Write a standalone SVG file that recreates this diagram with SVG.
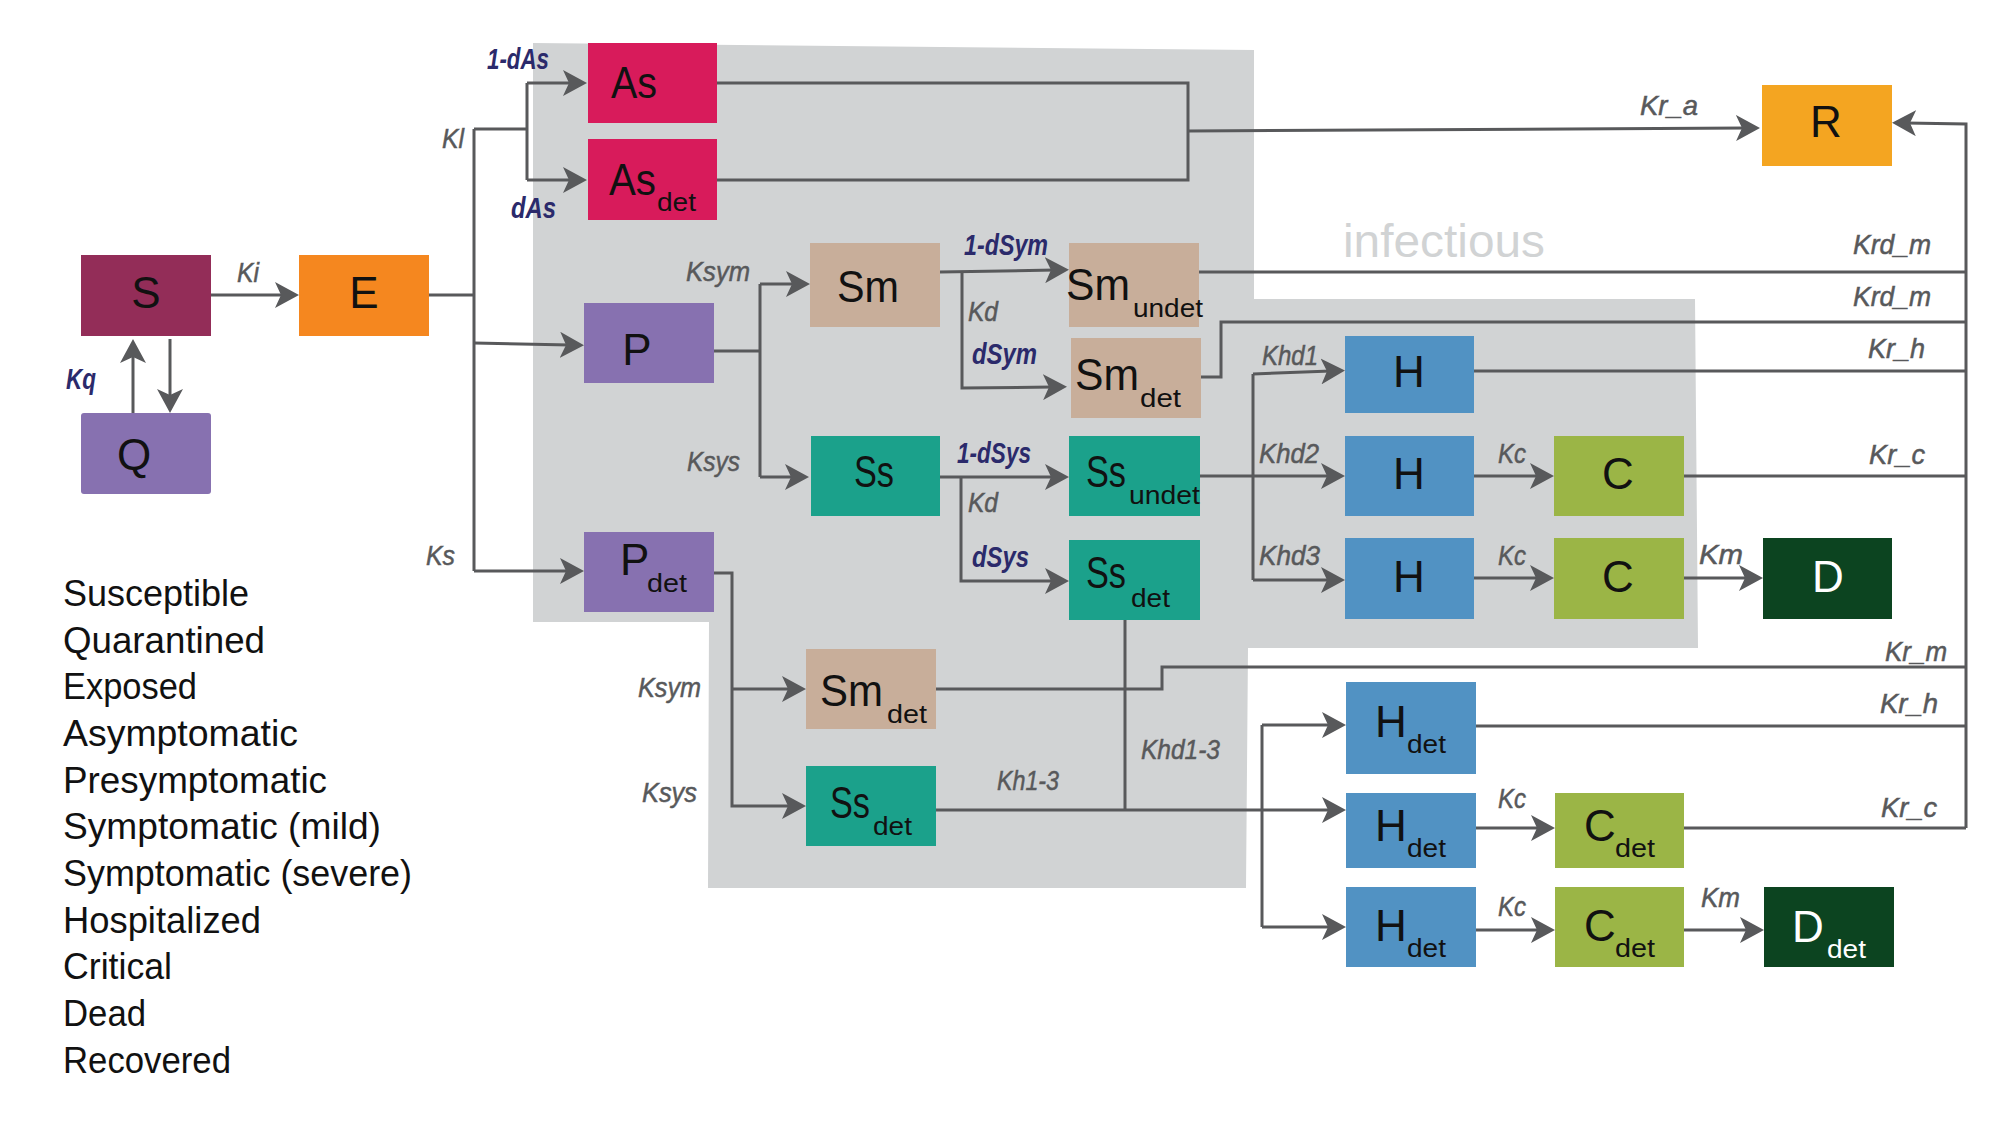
<svg xmlns="http://www.w3.org/2000/svg" width="2001" height="1127" viewBox="0 0 2001 1127">
<style>
.n{font-family:"Liberation Sans",Arial,sans-serif;font-size:44px;fill:#111}
.nm{text-anchor:middle}
.sub{font-family:"Liberation Sans",Arial,sans-serif;font-size:25px;fill:#111}
.w{fill:#fff}
.l{font-family:"Liberation Sans",Arial,sans-serif;font-style:italic;font-size:28px;fill:#58595B;stroke:#58595B;stroke-width:0.5}
.lv{font-family:"Liberation Sans",Arial,sans-serif;font-style:italic;font-weight:bold;font-size:29px;fill:#2B2A6B}
.lg{font-family:"Liberation Sans",Arial,sans-serif;font-size:37px;fill:#111}
.c{fill:none;stroke:#58595B;stroke-width:3}
.cS{fill:#932D58}.cE{fill:#F5871F}.cP{fill:#8771B0}.cA{fill:#D81B5B}.cM{fill:#C8AE9A}
.cT{fill:#1BA18B}.cH{fill:#5192C3}.cC{fill:#9BB546}.cD{fill:#0C4420}.cR{fill:#F4A521}
</style>
<defs>
<marker id="ah" viewBox="0 0 24 26" refX="10" refY="13" markerWidth="24" markerHeight="26" markerUnits="userSpaceOnUse" orient="auto">
<path d="M24,13 L0,0 L6,13 L0,26 Z" fill="#58595B"/>
</marker>
</defs>
<rect width="2001" height="1127" fill="#fff"/>
<g id="infectious-region">
<polygon points="533,43 1254,50 1254,299 1695,299 1698,648 1248,648 1246,888 708,888 709,622 533,622" fill="#D1D3D4"/>
<text x="1343" y="257" font-family="Liberation Sans, Arial, sans-serif" font-size="46" fill="#D1D3D4" textLength="202" lengthAdjust="spacingAndGlyphs">infectious</text>
</g>
<g id="connectors">
<path class="c" d="M211,295 H285" marker-end="url(#ah)"/>
<path class="c" d="M429,295 H474 M474,129 V571 M474,129 H527 M527,83 V180"/>
<path class="c" d="M527,83 H573" marker-end="url(#ah)"/>
<path class="c" d="M527,180 H573" marker-end="url(#ah)"/>
<path class="c" d="M474,343 L570,345" marker-end="url(#ah)"/>
<path class="c" d="M474,571 H570" marker-end="url(#ah)"/>
<path class="c" d="M133,413 V353" marker-end="url(#ah)"/>
<path class="c" d="M170,339 V399" marker-end="url(#ah)"/>
<path class="c" d="M717,83 H1188 V180 H717"/>
<path class="c" d="M1188,131 L1746,128" marker-end="url(#ah)"/>
<path class="c" d="M714,351 H760 M760,284 V477"/>
<path class="c" d="M760,284 H796" marker-end="url(#ah)"/>
<path class="c" d="M760,477 H795" marker-end="url(#ah)"/>
<path class="c" d="M940,272 L1055,270" marker-end="url(#ah)"/>
<path class="c" d="M962,272 V388 L1053,387" marker-end="url(#ah)"/>
<path class="c" d="M1199,272 H1966"/>
<path class="c" d="M1199,377 H1221 V322 H1966"/>
<path class="c" d="M1474,371 H1966"/>
<path class="c" d="M1253,374 V580"/>
<path class="c" d="M1253,374 L1331,371" marker-end="url(#ah)"/>
<path class="c" d="M1200,476 H1331" marker-end="url(#ah)"/>
<path class="c" d="M1253,580 H1331" marker-end="url(#ah)"/>
<path class="c" d="M940,477 H1055" marker-end="url(#ah)"/>
<path class="c" d="M961,477 V581 H1055" marker-end="url(#ah)"/>
<path class="c" d="M1474,476 H1540" marker-end="url(#ah)"/>
<path class="c" d="M1684,476 H1966"/>
<path class="c" d="M1474,578 H1540" marker-end="url(#ah)"/>
<path class="c" d="M1684,578 H1749" marker-end="url(#ah)"/>
<path class="c" d="M714,573 H732 V806 H792" marker-end="url(#ah)"/>
<path class="c" d="M732,689 H792" marker-end="url(#ah)"/>
<path class="c" d="M936,689 H1162 V667 H1966"/>
<path class="c" d="M1125,620 V810"/>
<path class="c" d="M936,810 H1332" marker-end="url(#ah)"/>
<path class="c" d="M1262,725 V927"/>
<path class="c" d="M1262,725 H1332" marker-end="url(#ah)"/>
<path class="c" d="M1262,927 H1332" marker-end="url(#ah)"/>
<path class="c" d="M1476,726 H1966"/>
<path class="c" d="M1476,828 H1541" marker-end="url(#ah)"/>
<path class="c" d="M1684,828 H1966"/>
<path class="c" d="M1476,930 H1541" marker-end="url(#ah)"/>
<path class="c" d="M1684,930 H1750" marker-end="url(#ah)"/>
<path class="c" d="M1966,828 V124 L1906,123" marker-end="url(#ah)"/>
<text class="l" x="442" y="148" textLength="22" lengthAdjust="spacingAndGlyphs">Kl</text>
<text class="l" x="237" y="282" textLength="22" lengthAdjust="spacingAndGlyphs">Ki</text>
<text class="l" x="426" y="565" textLength="29" lengthAdjust="spacingAndGlyphs">Ks</text>
<text class="l" x="686" y="281" textLength="64" lengthAdjust="spacingAndGlyphs">Ksym</text>
<text class="l" x="968" y="321" textLength="30" lengthAdjust="spacingAndGlyphs">Kd</text>
<text class="l" x="687" y="471" textLength="53" lengthAdjust="spacingAndGlyphs">Ksys</text>
<text class="l" x="968" y="512" textLength="30" lengthAdjust="spacingAndGlyphs">Kd</text>
<text class="l" x="1262" y="365" textLength="56" lengthAdjust="spacingAndGlyphs">Khd1</text>
<text class="l" x="1259" y="463" textLength="60" lengthAdjust="spacingAndGlyphs">Khd2</text>
<text class="l" x="1259" y="565" textLength="61" lengthAdjust="spacingAndGlyphs">Khd3</text>
<text class="l" x="1498" y="463" textLength="28" lengthAdjust="spacingAndGlyphs">Kc</text>
<text class="l" x="1498" y="565" textLength="28" lengthAdjust="spacingAndGlyphs">Kc</text>
<text class="l" x="1699" y="564" font-size="32" textLength="44" lengthAdjust="spacingAndGlyphs">Km</text>
<text class="l" x="1640" y="115" textLength="58" lengthAdjust="spacingAndGlyphs">Kr_a</text>
<text class="l" x="1853" y="254" textLength="78" lengthAdjust="spacingAndGlyphs">Krd_m</text>
<text class="l" x="1853" y="306" textLength="78" lengthAdjust="spacingAndGlyphs">Krd_m</text>
<text class="l" x="1868" y="358" textLength="57" lengthAdjust="spacingAndGlyphs">Kr_h</text>
<text class="l" x="1869" y="464" textLength="56" lengthAdjust="spacingAndGlyphs">Kr_c</text>
<text class="l" x="1885" y="661" textLength="62" lengthAdjust="spacingAndGlyphs">Kr_m</text>
<text class="l" x="1880" y="713" textLength="58" lengthAdjust="spacingAndGlyphs">Kr_h</text>
<text class="l" x="1881" y="817" textLength="56" lengthAdjust="spacingAndGlyphs">Kr_c</text>
<text class="l" x="638" y="697" textLength="63" lengthAdjust="spacingAndGlyphs">Ksym</text>
<text class="l" x="642" y="802" textLength="55" lengthAdjust="spacingAndGlyphs">Ksys</text>
<text class="l" x="1141" y="759" textLength="79" lengthAdjust="spacingAndGlyphs">Khd1-3</text>
<text class="l" x="997" y="790" textLength="62" lengthAdjust="spacingAndGlyphs">Kh1-3</text>
<text class="l" x="1498" y="808" textLength="28" lengthAdjust="spacingAndGlyphs">Kc</text>
<text class="l" x="1498" y="916" textLength="28" lengthAdjust="spacingAndGlyphs">Kc</text>
<text class="l" x="1701" y="907" textLength="39" lengthAdjust="spacingAndGlyphs">Km</text>
<text class="lv" x="487" y="69" textLength="62" lengthAdjust="spacingAndGlyphs">1-dAs</text>
<text class="lv" x="511" y="218" textLength="45" lengthAdjust="spacingAndGlyphs">dAs</text>
<text class="lv" x="66" y="389" textLength="30" lengthAdjust="spacingAndGlyphs">Kq</text>
<text class="lv" x="964" y="255" textLength="84" lengthAdjust="spacingAndGlyphs">1-dSym</text>
<text class="lv" x="972" y="364" textLength="65" lengthAdjust="spacingAndGlyphs">dSym</text>
<text class="lv" x="957" y="463" textLength="74" lengthAdjust="spacingAndGlyphs">1-dSys</text>
<text class="lv" x="972" y="567" textLength="57" lengthAdjust="spacingAndGlyphs">dSys</text>
</g>
<g id="node-S"><rect class="cS" x="81" y="255" width="130" height="81"/><text class="n nm" x="146" y="308">S</text></g>
<g id="node-E"><rect class="cE" x="299" y="255" width="130" height="81"/><text class="n nm" x="364" y="308">E</text></g>
<g id="node-Q"><rect class="cP" x="81" y="413" width="130" height="81" rx="3"/><text class="n nm" x="134" y="470">Q</text></g>
<g id="node-As"><rect class="cA" x="588" y="43" width="129" height="80"/><text class="n" x="611" y="98" textLength="46" lengthAdjust="spacingAndGlyphs">As</text></g>
<g id="node-As-det"><rect class="cA" x="588" y="139" width="129" height="81"/><text class="n" x="609" y="195" textLength="47" lengthAdjust="spacingAndGlyphs">As</text><text class="sub" x="657" y="211" textLength="39" lengthAdjust="spacingAndGlyphs">det</text></g>
<g id="node-P"><rect class="cP" x="584" y="303" width="130" height="80"/><text class="n nm" x="637" y="365">P</text></g>
<g id="node-P-det"><rect class="cP" x="584" y="532" width="130" height="80"/><text class="n" x="620" y="575">P</text><text class="sub" x="647" y="592" textLength="40" lengthAdjust="spacingAndGlyphs">det</text></g>
<g id="node-Sm"><rect class="cM" x="810" y="243" width="130" height="84"/><text class="n" x="837" y="302" textLength="62" lengthAdjust="spacingAndGlyphs">Sm</text></g>
<g id="node-Sm-undet"><rect class="cM" x="1069" y="243" width="130" height="84"/><text class="n" x="1066" y="300" textLength="64" lengthAdjust="spacingAndGlyphs">Sm</text><text class="sub" x="1133" y="317" textLength="70" lengthAdjust="spacingAndGlyphs">undet</text></g>
<g id="node-Sm-det"><rect class="cM" x="1071" y="338" width="130" height="80"/><text class="n" x="1075" y="390" textLength="64" lengthAdjust="spacingAndGlyphs">Sm</text><text class="sub" x="1140" y="407" textLength="41" lengthAdjust="spacingAndGlyphs">det</text></g>
<g id="node-Ss"><rect class="cT" x="811" y="436" width="129" height="80"/><text class="n" x="854" y="487" textLength="40" lengthAdjust="spacingAndGlyphs">Ss</text></g>
<g id="node-Ss-undet"><rect class="cT" x="1069" y="436" width="131" height="80"/><text class="n" x="1086" y="487" textLength="40" lengthAdjust="spacingAndGlyphs">Ss</text><text class="sub" x="1129" y="504" textLength="71" lengthAdjust="spacingAndGlyphs">undet</text></g>
<g id="node-Ss-det"><rect class="cT" x="1069" y="540" width="131" height="80"/><text class="n" x="1086" y="588" textLength="40" lengthAdjust="spacingAndGlyphs">Ss</text><text class="sub" x="1131" y="607" textLength="39" lengthAdjust="spacingAndGlyphs">det</text></g>
<g id="node-Sm-det-2"><rect class="cM" x="806" y="649" width="130" height="80"/><text class="n" x="820" y="706" textLength="63" lengthAdjust="spacingAndGlyphs">Sm</text><text class="sub" x="887" y="723" textLength="40" lengthAdjust="spacingAndGlyphs">det</text></g>
<g id="node-Ss-det-2"><rect class="cT" x="806" y="766" width="130" height="80"/><text class="n" x="830" y="818" textLength="40" lengthAdjust="spacingAndGlyphs">Ss</text><text class="sub" x="873" y="835" textLength="39" lengthAdjust="spacingAndGlyphs">det</text></g>
<g id="node-H1"><rect class="cH" x="1345" y="336" width="129" height="77"/><text class="n nm" x="1409" y="387">H</text></g>
<g id="node-H2"><rect class="cH" x="1345" y="436" width="129" height="80"/><text class="n nm" x="1409" y="489">H</text></g>
<g id="node-H3"><rect class="cH" x="1345" y="538" width="129" height="81"/><text class="n nm" x="1409" y="592">H</text></g>
<g id="node-C1"><rect class="cC" x="1554" y="436" width="130" height="80"/><text class="n nm" x="1618" y="489">C</text></g>
<g id="node-C2"><rect class="cC" x="1554" y="538" width="130" height="81"/><text class="n nm" x="1618" y="592">C</text></g>
<g id="node-D"><rect class="cD" x="1763" y="538" width="129" height="81"/><text class="n nm w" x="1828" y="592">D</text></g>
<g id="node-R"><rect class="cR" x="1762" y="85" width="130" height="81"/><text class="n nm" x="1826" y="137">R</text></g>
<g id="node-H-det-1"><rect class="cH" x="1346" y="682" width="130" height="92"/><text class="n" x="1375" y="737">H</text><text class="sub" x="1407" y="753" textLength="39" lengthAdjust="spacingAndGlyphs">det</text></g>
<g id="node-H-det-2"><rect class="cH" x="1346" y="793" width="130" height="75"/><text class="n" x="1375" y="841">H</text><text class="sub" x="1407" y="857" textLength="39" lengthAdjust="spacingAndGlyphs">det</text></g>
<g id="node-H-det-3"><rect class="cH" x="1346" y="887" width="130" height="80"/><text class="n" x="1375" y="941">H</text><text class="sub" x="1407" y="957" textLength="39" lengthAdjust="spacingAndGlyphs">det</text></g>
<g id="node-C-det-1"><rect class="cC" x="1555" y="793" width="129" height="75"/><text class="n" x="1584" y="841">C</text><text class="sub" x="1615" y="857" textLength="40" lengthAdjust="spacingAndGlyphs">det</text></g>
<g id="node-C-det-2"><rect class="cC" x="1555" y="887" width="129" height="80"/><text class="n" x="1584" y="941">C</text><text class="sub" x="1615" y="957" textLength="40" lengthAdjust="spacingAndGlyphs">det</text></g>
<g id="node-D-det"><rect class="cD" x="1764" y="887" width="130" height="80"/><text class="n w" x="1792" y="942">D</text><text class="sub w" x="1827" y="958" textLength="39" lengthAdjust="spacingAndGlyphs">det</text></g>
<g id="legend">
<text class="lg" x="63" y="606" textLength="186" lengthAdjust="spacingAndGlyphs">Susceptible</text>
<text class="lg" x="63" y="653" textLength="202" lengthAdjust="spacingAndGlyphs">Quarantined</text>
<text class="lg" x="63" y="699" textLength="134" lengthAdjust="spacingAndGlyphs">Exposed</text>
<text class="lg" x="63" y="746" textLength="235" lengthAdjust="spacingAndGlyphs">Asymptomatic</text>
<text class="lg" x="63" y="793" textLength="264" lengthAdjust="spacingAndGlyphs">Presymptomatic</text>
<text class="lg" x="63" y="839" textLength="318" lengthAdjust="spacingAndGlyphs">Symptomatic (mild)</text>
<text class="lg" x="63" y="886" textLength="349" lengthAdjust="spacingAndGlyphs">Symptomatic (severe)</text>
<text class="lg" x="63" y="933" textLength="198" lengthAdjust="spacingAndGlyphs">Hospitalized</text>
<text class="lg" x="63" y="979" textLength="109" lengthAdjust="spacingAndGlyphs">Critical</text>
<text class="lg" x="63" y="1026" textLength="83" lengthAdjust="spacingAndGlyphs">Dead</text>
<text class="lg" x="63" y="1073" textLength="168" lengthAdjust="spacingAndGlyphs">Recovered</text>
</g>
</svg>
